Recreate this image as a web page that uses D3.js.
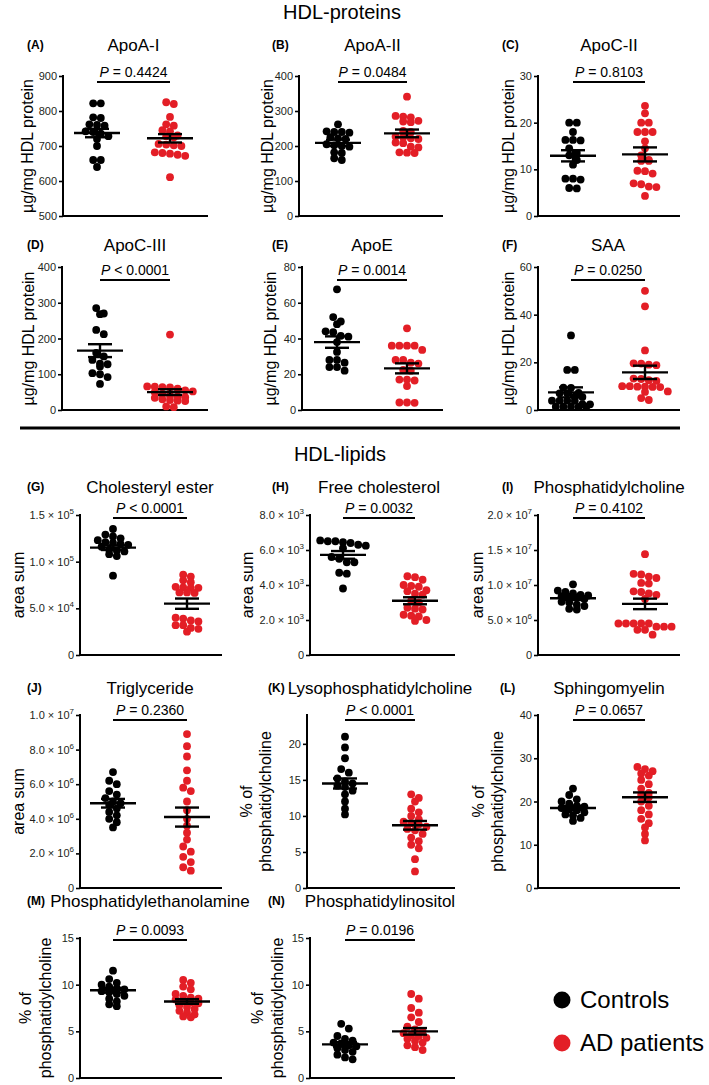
<!DOCTYPE html>
<html>
<head>
<meta charset="utf-8">
<script src="https://cdn.jsdelivr.net/npm/d3@7"></script>
<style>
body { margin: 0; background: #fff; }
svg { display: block; font-family: "Liberation Sans", Arial, Helvetica, sans-serif; }
</style>
</head>
<body>
<svg id="fig" width="709" height="1085"></svg>
<script>

var groups = ["Controls", "AD patients"];

var letters = ["(A)", "(B)", "(C)", "(D)", "(E)", "(F)", "(G)", "(H)", "(I)", "(J)", "(K)", "(L)", "(M)", "(N)"];
var titles = ["ApoA-I", "ApoA-II", "ApoC-II", "ApoC-III", "ApoE", "SAA",
    "Cholesteryl ester", "Free cholesterol", "Phosphatidylcholine",
    "Triglyceride", "Lysophosphatidylcholine", "Sphingomyelin",
    "Phosphatidylethanolamine", "Phosphatidylinositol"];
var pTexts = ["= 0.4424", "= 0.0484", "= 0.8103", "< 0.0001", "= 0.0014", "= 0.0250",
    "< 0.0001", "= 0.0032", "= 0.4102", "= 0.2360", "< 0.0001", "= 0.0657",
    "= 0.0093", "= 0.0196"];
var yMin = [500, 0, 0, 0, 0, 0, 0, 0, 0, 0, 0, 0, 0, 0];
var yMax = [900, 400, 30, 400, 80, 60, 1.5e5, 8e3, 2e7, 1e7, 24, 40, 15, 15];
var yStep = [100, 100, 10, 100, 20, 20, 5e4, 2e3, 5e6, 2e6, 5, 10, 5, 5];
var yTitles = ["µg/mg HDL protein", "µg/mg HDL protein", "µg/mg HDL protein",
    "µg/mg HDL protein", "µg/mg HDL protein", "µg/mg HDL protein",
    "area sum", "area sum", "area sum", "area sum",
    "% of|phosphatidylcholine", "% of|phosphatidylcholine",
    "% of|phosphatidylcholine", "% of|phosphatidylcholine"];

// individual values (controls / AD patients)
var apoAI_ctrl = [822, 822, 782, 780, 762, 760, 758, 742, 740, 735, 728, 720, 700, 660, 660, 640];
var apoAI_ad = [825, 820, 783, 762, 758, 745, 742, 730, 728, 725, 706, 704, 702, 700, 682, 680, 678, 675, 672, 611];
var apoAII_ctrl = [262, 242, 240, 240, 238, 225, 222, 220, 205, 202, 200, 198, 182, 180, 165, 160];
var apoAII_ad = [341, 286, 284, 282, 272, 270, 268, 243, 240, 227, 225, 222, 220, 210, 208, 198, 196, 182, 181, 180];
var apoCII_ctrl = [20, 20, 18, 16.3, 16.2, 16.3, 14.5, 13.5, 13, 12, 11, 8, 8, 7.8, 6, 5.9];
var apoCII_ad = [23.6, 22, 20, 20, 18, 18, 18, 16, 14.5, 13, 12, 11.8, 11.8, 9.7, 9.6, 9.1, 7, 6.8, 6.2, 6.3, 4.3];
var apoCIII_ctrl = [285, 270, 268, 224, 212, 160, 150, 140, 130, 128, 122, 103, 100, 92, 73];
var apoCIII_ad = [211, 66, 65, 64, 63, 60, 55, 52, 50, 45, 40, 38, 36, 34, 30, 28, 26, 25, 10, 8];
var apoE_ctrl = [67.5, 52, 49.5, 48, 44, 43.5, 41.5, 41, 38, 32.5, 28, 28, 26.5, 24, 24, 22];
var apoE_ad = [45.7, 36, 36, 36, 36, 33.6, 28, 28, 26.5, 26, 22.5, 22, 17, 17, 16.5, 13.4, 4.2, 4.2, 4];
var saa_ctrl = [31.3, 16.8, 16.8, 9.4, 9.3, 7.2, 7.0, 7.0, 5.6, 5.5, 3.9, 3.9, 3.8, 3.9, 2.5, 2.4, 1.4, 1.4, 1.3, 1.4, 1.3];
var saa_ad = [50, 43.5, 25, 19.6, 19.5, 19, 18.8, 13.2, 13, 12.5, 12.2, 10, 10, 9.8, 9.8, 9.7, 9.6, 7.8, 7.6, 5, 4.2];
var ce_ctrl = [13.5e4, 12.9e4, 12.7e4, 12.5e4, 12.3e4, 12.1e4, 12.0e4, 11.9e4, 11.8e4, 11.6e4, 11.3e4, 11.2e4, 11.1e4, 10.8e4, 10.6e4, 8.5e4];
var ce_ad = [8.6e4, 8.4e4, 8.0e4, 7.8e4, 7.3e4, 7.25e4, 7.2e4, 7.2e4, 6.7e4, 6.7e4, 6.65e4, 4.0e4, 3.9e4, 3.7e4, 3.6e4, 3.2e4, 3.2e4, 2.9e4, 2.8e4, 2.5e4];
var fc_ctrl = [6550, 6500, 6500, 6450, 6400, 6300, 6250, 6100, 5600, 5500, 5300, 5300, 4700, 4650, 3800];
var fc_ad = [4500, 4450, 4300, 4000, 3950, 3900, 3700, 3650, 3500, 3450, 3100, 3000, 2700, 2650, 2600, 2300, 2250, 2200, 2000, 1950];
var pc_ctrl = [10.1e6, 9.2e6, 9.0e6, 8.8e6, 8.6e6, 8.5e6, 8.4e6, 8.3e6, 8.2e6, 8.0e6, 7.6e6, 7.5e6, 7.2e6, 7.0e6, 6.6e6, 6.5e6];
var pc_ad = [14.4e6, 11.6e6, 11.5e6, 11.2e6, 11.0e6, 10.3e6, 10.2e6, 9.1e6, 9.0e6, 8.8e6, 8.6e6, 8.0e6, 4.5e6, 4.5e6, 4.5e6, 4.5e6, 4.5e6, 4.05e6, 4.05e6, 4.05e6, 3.6e6, 3.6e6, 2.9e6];
var tg_ctrl = [6.7e6, 6.2e6, 6.0e6, 5.6e6, 5.4e6, 5.2e6, 5.0e6, 4.9e6, 4.8e6, 4.6e6, 4.4e6, 4.2e6, 4.0e6, 3.8e6, 3.5e6];
var tg_ad = [8.9e6, 8.2e6, 7.6e6, 6.8e6, 6.2e6, 5.8e6, 5.6e6, 5.0e6, 4.5e6, 4.0e6, 3.6e6, 3.2e6, 2.8e6, 2.4e6, 2.1e6, 1.8e6, 1.5e6, 1.2e6, 1.0e6];
var lpc_ctrl = [21, 19.5, 18, 16.5, 16, 15.2, 14.8, 14.5, 14.2, 14.0, 13.5, 13, 12, 11, 10.2];
var lpc_ad = [13, 12.5, 12, 11, 10.5, 10, 9.5, 9.2, 9.0, 8.8, 8.5, 8.2, 8.0, 7.5, 7.0, 6.5, 6.0, 5.5, 4.0, 2.3];
var sm_ctrl = [23, 21.5, 20.5, 20, 19.5, 19, 18.8, 18.5, 18.2, 18, 17.5, 17, 16.8, 16.2, 15.5];
var sm_ad = [28, 27.5, 27, 26.5, 26, 25, 24, 23, 22, 21.5, 21, 20, 19, 18, 17, 16, 15, 14, 12.5, 11];
var pe_ctrl = [11.5, 10.6, 10.2, 10.0, 9.8, 9.6, 9.5, 9.3, 9.2, 9.0, 8.8, 8.5, 8.2, 7.9, 7.7];
var pe_ad = [10.5, 10.2, 9.8, 9.5, 9.0, 8.8, 8.6, 8.5, 8.4, 8.2, 8.1, 8.0, 7.8, 7.6, 7.4, 7.2, 7.0, 6.8, 6.6, 6.5];
var pi_ctrl = [5.8, 5.3, 4.5, 4.2, 4.0, 3.8, 3.7, 3.5, 3.4, 3.2, 3.0, 2.8, 2.5, 2.2, 2.0];
var pi_ad = [9.0, 8.5, 7.5, 7.0, 6.5, 6.0, 5.5, 5.2, 5.0, 4.8, 4.6, 4.5, 4.3, 4.2, 4.0, 3.8, 3.5, 3.3, 3.0];

// mean and SEM [controls, AD]
var means = [[737, 722], [209, 236], [12.9, 13.2], [166, 50], [38, 23.3], [7.4, 15.8],
    [11.5e4, 5.5e4], [5720, 3100], [8.1e6, 7.3e6], [4.9e6, 4.1e6], [14.5, 8.7],
    [18.5, 21.0], [9.4, 8.2], [3.6, 5.0]];
var sems = [[12, 12], [9, 11], [1.2, 1.5], [18, 8], [3.2, 2.8], [2.1, 2.8],
    [0.25e4, 0.55e4], [220, 200], [0.25e6, 0.75e6], [0.25e6, 0.55e6], [0.7, 0.6],
    [0.5, 1.1], [0.25, 0.25], [0.25, 0.35]];

var values = [[apoAI_ctrl, apoAI_ad], [apoAII_ctrl, apoAII_ad], [apoCII_ctrl, apoCII_ad],
    [apoCIII_ctrl, apoCIII_ad], [apoE_ctrl, apoE_ad], [saa_ctrl, saa_ad],
    [ce_ctrl, ce_ad], [fc_ctrl, fc_ad], [pc_ctrl, pc_ad], [tg_ctrl, tg_ad],
    [lpc_ctrl, lpc_ad], [sm_ctrl, sm_ad], [pe_ctrl, pe_ad], [pi_ctrl, pi_ad]];

// panel geometry
var layout = [
    {x0: 63, x1: 208, gx: [97, 170], top: 76, bottom: 216, yl: [27]},
    {x0: 299, x1: 443, gx: [338, 407], top: 76, bottom: 216, yl: [267]},
    {x0: 538, x1: 680, gx: [573, 645], top: 76, bottom: 216, yl: [508]},
    {x0: 62, x1: 208, gx: [100, 170], top: 267, bottom: 410, yl: [28]},
    {x0: 302, x1: 443, gx: [337, 407], top: 267, bottom: 410, yl: [270]},
    {x0: 538, x1: 680, gx: [571, 645], top: 267, bottom: 410, yl: [508]},
    {x0: 80, x1: 222, gx: [113, 187], top: 515, bottom: 655, yl: [18]},
    {x0: 310, x1: 455, gx: [343, 415], top: 515, bottom: 655, yl: [247]},
    {x0: 538, x1: 680, gx: [573, 645], top: 515, bottom: 655, yl: [477]},
    {x0: 80, x1: 222, gx: [113, 187], top: 715, bottom: 888, yl: [18]},
    {x0: 307, x1: 455, gx: [345, 415], top: 715, bottom: 888, yl: [246, 265]},
    {x0: 538, x1: 680, gx: [573, 645], top: 715, bottom: 888, yl: [478, 497]},
    {x0: 80, x1: 222, gx: [113, 187], top: 938, bottom: 1078, yl: [25, 45]},
    {x0: 310, x1: 455, gx: [345, 415], top: 938, bottom: 1078, yl: [257, 277]}
];
var letterX = [27, 272, 502, 27, 272, 502, 27, 272, 502, 27, 268, 500, 27, 268];
// title / P-value vertical centres for the five rows
var rowTitleY = [45, 245, 487, 688, 901];
var rowPY = [72, 270, 508, 710, 930];
var rowOf = [0, 0, 0, 1, 1, 1, 2, 2, 2, 3, 3, 3, 4, 4];

var colors = ["#000000", "#e31e26"];
var svg = d3.select("#fig");
var R = 3.9;

// graphpad-like column scatter: bin by pixel height, spread each bin centred
function swarm(vals, y) {
    var D = 7.6, binH = 5.5;
    var sorted = vals.slice().sort(function(a, b) { return b - a; });
    var bins = [];
    sorted.forEach(function(v) {
        var py = y(v);
        var last = bins[bins.length - 1];
        if (last && py - last.y0 < binH) last.pts.push(py);
        else bins.push({y0: py, pts: [py]});
    });
    var out = [];
    bins.forEach(function(b) {
        var n = b.pts.length;
        b.pts.forEach(function(py, k) {
            out.push({x: (k - (n - 1) / 2) * D, y: py});
        });
    });
    return out;
}

function sciTick(g, v) {
    if (v == 0) { g.text("0"); return; }
    var e = Math.floor(Math.log10(v) + 1e-9);
    var m = v / Math.pow(10, e);
    g.text(null);
    g.append("tspan").text(m.toFixed(1) + " × 10");
    g.append("tspan").attr("dy", -5).attr("font-size", 8).text(e);
}

for (let i = 0; i < 14; i++) {
    var L = layout[i];
    var y = d3.scaleLinear().domain([yMin[i], yMax[i]]).range([L.bottom, L.top]);
    var x = d3.scalePoint().domain(groups).range(L.gx);
    var panel = svg.append("g");
    var sci = yMax[i] >= 1000 && i >= 6;

    var ticks = d3.range(yMin[i], yMax[i] + yStep[i] * 0.01, yStep[i]);
    var yAxis = d3.axisLeft(y).tickValues(ticks).tickSize(4).tickPadding(2);
    var ga = panel.append("g").attr("transform", "translate(" + L.x0 + ",0)").call(yAxis);
    ga.select(".domain").attr("stroke-width", 2).attr("d", "M0," + (L.top - 1) + "V" + (L.bottom + 1));
    ga.selectAll(".tick line").attr("stroke-width", 1.6);
    ga.selectAll(".tick text").attr("font-size", 11).attr("fill", "#231f20")
        .attr("font-family", "Liberation Sans, Arial, sans-serif");
    if (sci) {
        ga.selectAll(".tick text").each(function(d) { sciTick(d3.select(this), d); });
    }

    // x baseline
    panel.append("line")
        .attr("x1", L.x0 - 1).attr("x2", L.x1)
        .attr("y1", y(yMin[i])).attr("y2", y(yMin[i]))
        .attr("stroke", "#000").attr("stroke-width", 2.2);

    // points
    groups.forEach(function(gname, gi) {
        swarm(values[i][gi], y).forEach(function(p) {
            panel.append("circle")
                .attr("cx", x(gname) + p.x).attr("cy", p.y).attr("r", R)
                .attr("fill", colors[gi]);
        });
    });

    // mean +- SEM
    groups.forEach(function(gname, gi) {
        var cx = x(gname), m = means[i][gi], s = sems[i][gi];
        var ln = panel.append("g").attr("stroke", "#000").attr("stroke-width", 2.4);
        ln.append("line").attr("x1", cx - 23).attr("x2", cx + 23).attr("y1", y(m)).attr("y2", y(m));
        ln.append("line").attr("x1", cx).attr("x2", cx).attr("y1", y(m + s)).attr("y2", y(m - s));
        ln.append("line").attr("x1", cx - 12).attr("x2", cx + 12).attr("y1", y(m + s)).attr("y2", y(m + s));
        ln.append("line").attr("x1", cx - 12).attr("x2", cx + 12).attr("y1", y(m - s)).attr("y2", y(m - s));
    });

    var mid = (L.gx[0] + L.gx[1]) / 2;
    var titleY = rowTitleY[rowOf[i]];
    var pY = rowPY[rowOf[i]];

    panel.append("text").attr("x", letterX[i]).attr("y", titleY + 4)
        .attr("font-size", 12).attr("font-weight", "bold").text(letters[i]);
    panel.append("text").attr("x", mid).attr("y", titleY + 6)
        .attr("text-anchor", "middle").attr("font-size", 17).text(titles[i]);

    var pt = panel.append("text").attr("x", mid).attr("y", pY + 5)
        .attr("text-anchor", "middle").attr("font-size", 14);
    pt.append("tspan").attr("font-style", "italic").text("P");
    pt.append("tspan").text(" " + pTexts[i]);
    panel.append("line").attr("x1", L.gx[0]).attr("x2", L.gx[1])
        .attr("y1", pY + 10).attr("y2", pY + 10)
        .attr("stroke", "#000").attr("stroke-width", 2);

    // y title
    var parts = yTitles[i].split("|");
    var cy = (L.top + L.bottom) / 2;
    parts.forEach(function(t, k) {
        panel.append("text")
            .attr("transform", "translate(" + L.yl[k] + "," + cy + ") rotate(-90)")
            .attr("text-anchor", "middle").attr("dy", "0.35em")
            .attr("font-size", 16).text(t);
    });
}

// section headings and separator
svg.append("text").attr("x", 342).attr("y", 19).attr("text-anchor", "middle")
    .attr("font-size", 20).text("HDL-proteins");
svg.append("line").attr("x1", 20).attr("x2", 680).attr("y1", 428).attr("y2", 428)
    .attr("stroke", "#000").attr("stroke-width", 3);
svg.append("text").attr("x", 340).attr("y", 461).attr("text-anchor", "middle")
    .attr("font-size", 20).text("HDL-lipids");

// legend
var leg = svg.append("g");
groups.forEach(function(gname, gi) {
    leg.append("circle").attr("cx", 562).attr("cy", 1000 + gi * 43).attr("r", 8.5).attr("fill", colors[gi]);
    leg.append("text").attr("x", 580).attr("y", 1008 + gi * 43).attr("font-size", 24).text(gname);
});
</script>
</body>
</html>
